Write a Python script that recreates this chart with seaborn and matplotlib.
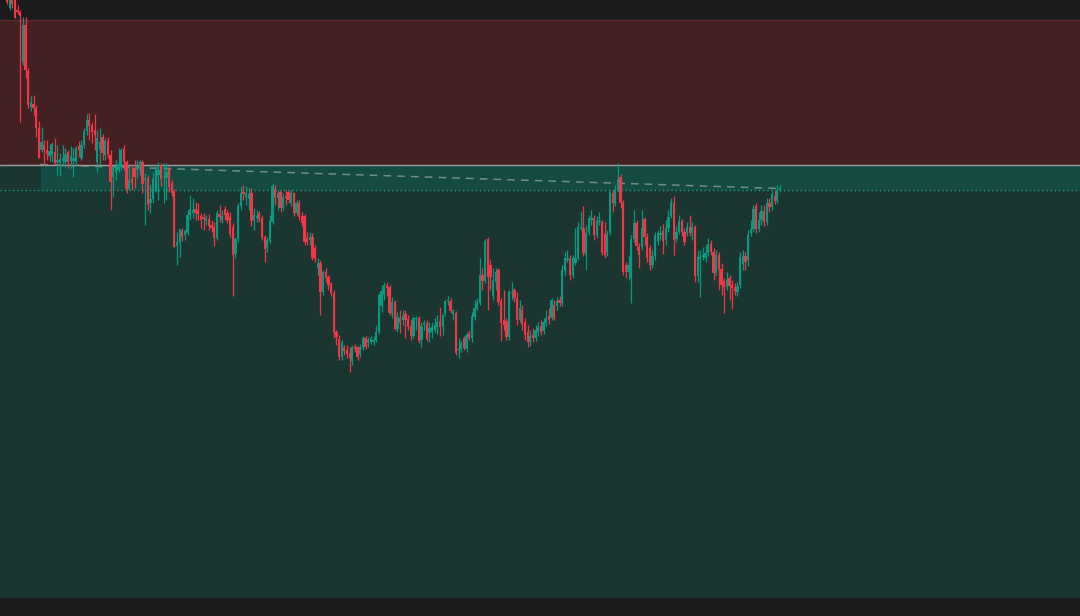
import numpy as np
import pandas as pd
import matplotlib
matplotlib.use("Agg")
import matplotlib.pyplot as plt
import seaborn as sns

# ---------------- data (price units) ----------------
opens = [
    618, 608, 616, 616, 606, 604, 554, 591, 545, 509, 512, 508,
    488, 466, 471, 466, 460, 461, 464, 454, 453, 455, 454,
    464, 455, 455, 454, 470, 458, 471, 485, 496, 491, 486,
    454, 466, 479, 461, 475, 461, 439, 444, 446, 449,
    467, 454, 427, 437, 448, 446, 446, 454, 436, 438,
    413, 417, 426, 441, 451, 439, 438, 447, 433, 425,
    370, 373, 385, 381, 383, 401, 403, 407, 406, 400,
    399, 395, 397, 391, 389, 378, 402, 396, 407, 403,
    399, 389, 362, 377, 410, 424, 419, 417, 423, 396,
    398, 402, 398, 379, 368, 375, 394, 427, 418, 424,
    408, 420, 424, 413, 423, 403, 413, 400, 400, 378,
    376, 379, 368, 348, 353, 324, 344, 339, 332, 323,
    284, 277, 259, 268, 266, 263, 255, 269, 269, 262,
    269, 278, 274, 274, 274, 276, 284, 310, 321, 331,
    329, 303, 314, 287, 298, 296, 302, 297, 290, 280,
    297, 298, 276, 291, 293, 283, 284, 286, 289, 295,
    289, 303, 315, 315, 302, 303, 266, 267, 278, 267,
    282, 278, 299, 308, 313, 341, 335, 377, 351, 320,
    334, 346, 315, 296, 295, 279, 323, 326, 318, 296,
    306, 294, 284, 274, 281, 278, 284, 290, 285, 293,
    300, 298, 311, 310, 316, 313, 346, 356, 357, 341,
    353, 358, 388, 388, 361, 383, 396, 398, 381, 394,
    394, 382, 364, 383, 423, 413, 426, 439, 413, 351,
    344, 338, 377, 393, 369, 369, 397, 379, 368, 351,
    360, 375, 381, 385, 376, 388, 400, 413, 377, 384,
    395, 384, 383, 389, 383, 389, 340, 357, 359, 358,
    363, 372, 364, 343, 361, 347, 335, 329, 338,
    331, 329, 324, 331, 352, 360, 356, 383, 387,
    410, 387, 396, 405, 394, 413, 409, 420, 415, 426,
]
closes = [
    614, 616, 612, 598, 604, 600, 591, 546, 511, 514, 508, 488,
    458, 474, 466, 462, 465, 472, 453, 456, 457, 458, 462,
    454, 460, 458, 468, 466, 471, 485, 496, 490, 484, 481,
    478, 474, 463, 475, 461, 434, 448, 448, 452, 466,
    454, 427, 436, 433, 439, 450, 454, 432, 438, 411,
    417, 437, 448, 446, 437, 440, 444, 429, 423, 369,
    374, 387, 379, 385, 401, 407, 406, 403, 402, 396,
    397, 398, 390, 388, 378, 403, 399, 400, 401, 396,
    382, 361, 377, 410, 423, 422, 423, 422, 395, 401,
    400, 397, 378, 367, 376, 395, 430, 418, 423, 408,
    419, 418, 416, 423, 403, 413, 399, 393, 374, 374,
    379, 358, 357, 353, 324, 344, 338, 331, 323, 283,
    279, 259, 274, 265, 262, 258, 269, 267, 259, 269,
    278, 269, 276, 277, 276, 284, 321, 325, 331, 328,
    303, 314, 287, 299, 293, 300, 296, 289, 280, 298,
    298, 275, 290, 293, 277, 288, 289, 291, 294, 289,
    301, 315, 316, 305, 305, 263, 267, 273, 268, 281,
    278, 300, 308, 313, 341, 335, 375, 339, 339, 336,
    344, 314, 293, 291, 279, 324, 324, 318, 296, 308,
    291, 281, 274, 280, 278, 286, 289, 284, 294, 298,
    296, 316, 298, 315, 313, 346, 358, 358, 341, 358,
    358, 389, 389, 363, 383, 398, 398, 381, 395, 395,
    363, 361, 382, 424, 413, 426, 437, 413, 344, 344,
    351, 377, 393, 370, 361, 388, 379, 358, 351, 360,
    381, 383, 383, 375, 388, 399, 414, 376, 384, 395,
    384, 374, 389, 383, 389, 340, 359, 359, 361, 363,
    372, 364, 343, 361, 346, 331, 329, 336, 330,
    328, 325, 330, 359, 360, 354, 381, 387, 407,
    387, 396, 405, 394, 413, 409, 422, 415, 426, 428,
]
highs = [
    626, 621, 622, 621, 611, 606, 599, 599, 548, 520, 521, 511,
    495, 489, 476, 476, 472, 474, 478, 471, 463, 471, 468,
    466, 470, 468, 470, 475, 476, 488, 502, 503, 494, 502,
    486, 488, 482, 478, 479, 466, 451, 456, 468, 468,
    471, 456, 452, 452, 456, 456, 456, 456, 443, 441,
    431, 444, 451, 454, 453, 453, 453, 450, 436, 427,
    384, 387, 388, 387, 406, 421, 418, 414, 413, 403,
    403, 401, 402, 396, 394, 406, 411, 406, 410, 406,
    404, 393, 379, 413, 430, 431, 430, 428, 428, 408,
    406, 405, 401, 381, 379, 401, 433, 431, 426, 426,
    423, 426, 426, 426, 424, 416, 416, 404, 402, 384,
    384, 383, 371, 358, 356, 346, 348, 341, 334, 326,
    286, 281, 276, 271, 271, 269, 271, 272, 270, 272,
    280, 280, 279, 280, 280, 291, 323, 331, 334, 334,
    331, 319, 316, 304, 306, 306, 306, 301, 296, 300,
    300, 300, 294, 296, 296, 294, 294, 298, 301, 309,
    303, 316, 320, 318, 307, 305, 278, 276, 280, 284,
    286, 304, 316, 318, 358, 348, 377, 379, 356, 348,
    348, 348, 318, 326, 298, 326, 334, 328, 324, 316,
    311, 298, 291, 286, 288, 291, 294, 296, 298, 306,
    308, 318, 316, 319, 320, 351, 364, 366, 361, 361,
    388, 394, 404, 410, 391, 401, 406, 401, 400, 404,
    396, 394, 386, 426, 426, 431, 453, 442, 416, 354,
    361, 381, 406, 396, 373, 406, 399, 383, 371, 366,
    384, 386, 390, 392, 396, 406, 418, 420, 390, 401,
    397, 388, 394, 401, 394, 391, 366, 366, 369, 371,
    378, 376, 368, 366, 364, 353, 338, 344, 341,
    336, 333, 334, 364, 366, 364, 386, 396, 411,
    413, 404, 411, 411, 418, 418, 426, 426, 431, 431,
]
lows = [
    612, 606, 608, 598, 602, 494, 551, 538, 508, 505, 501, 479,
    458, 464, 451, 456, 455, 454, 451, 441, 440, 451, 449,
    448, 448, 439, 451, 459, 456, 468, 481, 476, 473, 466,
    444, 451, 456, 456, 458, 406, 419, 436, 444, 446,
    446, 423, 426, 426, 428, 438, 441, 423, 391, 406,
    403, 413, 424, 416, 430, 413, 416, 424, 420, 369,
    351, 359, 375, 376, 381, 396, 398, 396, 396, 388,
    386, 391, 386, 384, 370, 376, 394, 393, 396, 393,
    379, 320, 358, 374, 406, 416, 411, 406, 390, 386,
    394, 394, 376, 354, 364, 373, 392, 411, 406, 404,
    406, 411, 413, 410, 400, 401, 396, 390, 371, 371,
    371, 356, 354, 341, 301, 321, 334, 326, 320, 278,
    271, 256, 256, 261, 258, 244, 251, 264, 256, 259,
    266, 267, 269, 272, 271, 274, 282, 304, 316, 320,
    301, 298, 286, 284, 283, 291, 278, 286, 276, 278,
    286, 273, 269, 286, 275, 274, 278, 284, 282, 280,
    281, 300, 311, 303, 296, 261, 258, 264, 266, 264,
    276, 274, 296, 306, 311, 326, 333, 306, 326, 316,
    326, 311, 275, 286, 276, 276, 316, 314, 291, 294,
    286, 276, 269, 270, 274, 275, 280, 281, 282, 290,
    292, 296, 296, 306, 310, 310, 341, 354, 336, 338,
    351, 356, 386, 360, 346, 381, 391, 376, 378, 391,
    361, 358, 360, 381, 404, 410, 424, 408, 341, 338,
    336, 313, 374, 366, 348, 366, 371, 354, 346, 348,
    356, 371, 376, 362, 371, 384, 398, 361, 374, 382,
    380, 371, 380, 380, 376, 334, 334, 319, 356, 354,
    360, 361, 336, 340, 326, 321, 303, 326, 316,
    307, 321, 320, 328, 346, 346, 350, 380, 384,
    383, 384, 391, 390, 391, 404, 406, 412, 413, 424,
]

# zones / levels
zone_top = 596      # top of supply zone
resistance = 451    # grey level
support = 426       # dotted level
zone_floor = 18     # bottom of demand zone
band_start = 12.8   # bar index where the teal band begins

# dashed trend line (bar index, price)
trend_x = [12.4, 291]
trend_y = [451.5, 427.5]

# ---------------- styling ----------------
sns.set_theme(style="dark")
BG = "#1b1b1b"
UP = "#089981"
DOWN = "#f23645"

df = pd.DataFrame({"open": opens, "close": closes, "high": highs, "low": lows})
df["idx"] = np.arange(len(df))
df["up"] = df["close"] >= df["open"]
df["color"] = np.where(df["up"], UP, DOWN)
df["bottom"] = df[["open", "close"]].min(axis=1)
df["height"] = np.maximum((df["close"] - df["open"]).abs(), 0.9)

n = len(df)
step = (780 - 7) / (n - 1)          # pixels per bar
x_left = -7 / step
x_right = (1080 - 7) / step

fig = plt.figure(figsize=(10.8, 6.16), dpi=100, facecolor=BG)
ax = fig.add_axes([0, 0, 1, 1])
ax.set_xlim(x_left, x_right)
ax.set_ylim(0, 616)

# zones
ax.axhspan(zone_floor, resistance, color="#1b3530", lw=0, zorder=0)
ax.axhspan(resistance, zone_top, color="#432123", lw=0, zorder=0)
ax.fill_between([band_start, x_right], support, resistance, color="#144a42", lw=0, zorder=0.5)
ax.axhline(zone_top, color="#5e2a2d", lw=1.0, zorder=1)
ax.axhline(resistance, color="#a0a0a0", lw=1.0, zorder=1)
ax.axhline(support, color="#17a589", lw=1.0, ls=(0, (1, 2)), zorder=1)

# trend line
ax.plot(trend_x, trend_y, color="#8e9d99", lw=1.1, ls=(0, (5, 4)), alpha=0.8, zorder=1.5)

# candles
ax.vlines(df["idx"], df["low"], df["high"], colors=df["color"], lw=0.9, zorder=2)
ax.bar(df["idx"], df["height"], bottom=df["bottom"], width=0.86,
       color=df["color"], linewidth=0, zorder=3)

ax.set_axis_off()
fig.savefig("out.png", dpi=100, facecolor=BG)
